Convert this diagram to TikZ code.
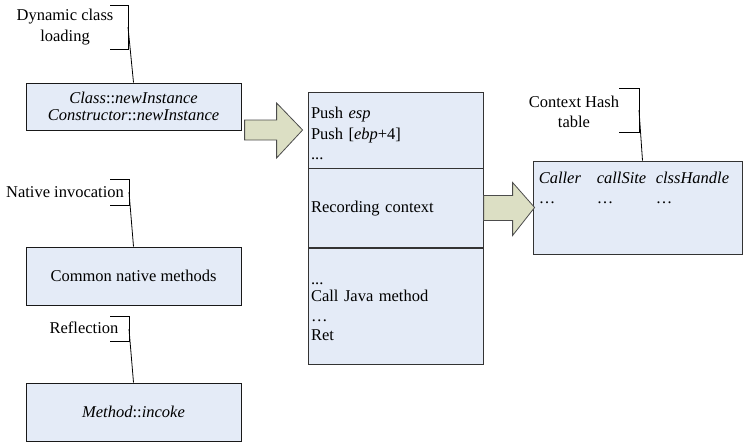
\documentclass[tikz,border=0pt]{standalone}
\usepackage{fontspec}
\setmainfont{Liberation Serif}
\usetikzlibrary{calc}
\definecolor{boxblue}{RGB}{228,235,247}
\definecolor{arrowgreen}{RGB}{220,223,196}
\tikzset{
  mybox/.style={draw=black!90,line width=1pt,fill=boxblue,minimum width=215pt,inner sep=0pt,align=center},
  stackbox/.style={draw=black!80,line width=0.8pt,fill=boxblue,minimum width=175pt,text width=169pt,align=left,inner xsep=3pt,inner ysep=0pt},
  fatarrow/.style={draw=black!70,line width=0.8pt,fill=arrowgreen,line join=miter},
  callout/.style={draw=black,line width=0.8pt},
  lbl/.style={align=center,inner sep=0pt}
}
\begin{document}
\begin{tikzpicture}[x=1pt,y=-1pt,font=\fontsize{16.5}{20.5}\selectfont]
	    \useasboundingbox (0,0) rectangle (743,442);
	    
	    % left boxes
	    \node[mybox,minimum height=47pt] (cls) at (133.5,106.5) {\textit{Class}::\textit{newInstance}\\[-3pt]\textit{Constructor}::\textit{newInstance}};
	    \node[mybox,minimum height=58pt] (nat) at (133.5,276) {Common native methods};
	    \node[mybox,minimum height=58pt] (ref) at (133.5,412) {\textit{Method}::\textit{incoke}};
	    
	    % callouts
	    \node[lbl] (dyn) at (65,27) {Dynamic class\\loading};
	    \draw[callout] (110,5) -| (128,49) -- (110,49);
	    \coordinate (dynb) at (128,27);
	    \draw[callout] (dynb) -- (cls.north);
	    
	    \node[lbl] (natlbl) at (65,192) {Native invocation};
	    \draw[callout] (110,179) -| (129,205) -- (110,205);
	    \coordinate (natb) at (129,192);
	    \draw[callout] (natb) -- (nat.north);
	    
	    \node[lbl] (reflbl) at (84,328) {Reflection};
	    \draw[callout] (110,316) -| (129,341) -- (110,341);
	    \coordinate (refb) at (129,329);
	    \draw[callout] (refb) -- (ref.north);
	    
	    % stack
	    \node[stackbox,minimum height=76pt] (stk1) at (395.5,130) {\rule{0pt}{19pt}Push \textit{esp}\\Push [\textit{ebp}+4]\\...};
	    \node[stackbox,minimum height=79pt,anchor=north] (stk2) at (stk1.south) {Recording context};
	    \node[stackbox,minimum height=116pt,anchor=north] (stk3) at (stk2.south) {\rule{0pt}{12pt}...\\[-3pt]Call Java method\\[-1pt]…\\[-1pt]Ret};
	    
	    % hash table
	    \node[draw=black!80,line width=0.8pt,fill=boxblue,minimum width=209pt,minimum height=93pt,inner sep=0pt] (hash) at (637.5,207.5) {};
	    \node[anchor=north west,inner sep=0pt] (hashtxt) at ($(hash.north west)+(6,8)$) {%
	      \begin{tabular}{@{}p{58pt}@{}p{59pt}@{}l@{}}
	        \textit{Caller} & \textit{callSite} & \textit{clssHandle}\\
	        … & … & …
	      \end{tabular}};
	    \node[lbl] (hashlbl) at (574,112) {Context Hash\\table};
	    \draw[callout] (619,88) -| (639,132) -- (619,132);
	    \coordinate (hashb) at (639,110);
	    \draw[callout] (hashb) -- ($(hash.north)+(5,0)$);
	    
	    % block arrows
	    \draw[fatarrow] ($(stk1.west)+(-63,-10)$) -- ++(32,0) -- ++(0,-17) -- ++(26,27) -- ++(-26,28) -- ++(0,-18) -- ++(-32,0) -- cycle;
	    \draw[fatarrow] ($(hash.west)+(-49,-12)$) -- ++(29,0) -- ++(0,-13) -- ++(22,25) -- ++(-22,28) -- ++(0,-15) -- ++(-29,0) -- cycle;
	\end{tikzpicture}
\end{document}
